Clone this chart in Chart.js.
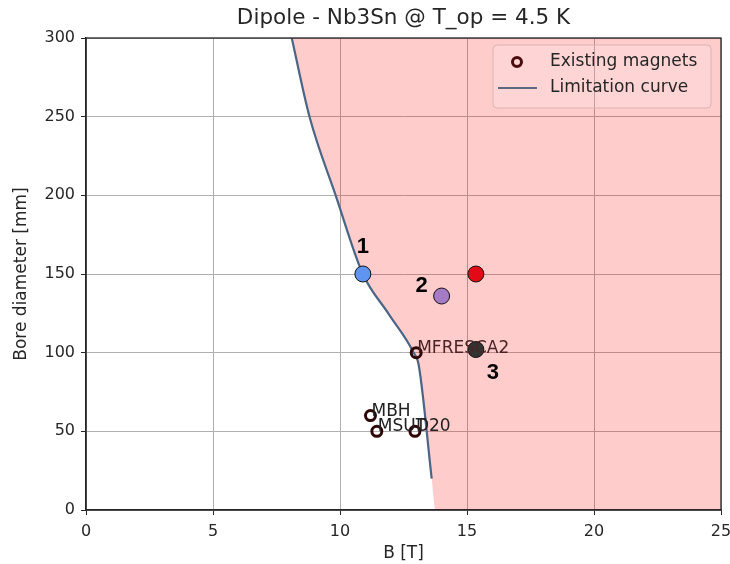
<!DOCTYPE html>
<html><head><meta charset="utf-8">
<script src="https://cdn.jsdelivr.net/npm/chart.js@4/dist/chart.umd.min.js"></script>
<style>html,body{margin:0;padding:0;background:#fff}</style>
</head><body>
<canvas id="c" width="730" height="564"></canvas>
<script>
// ---- data ----
const chartTitle = 'Dipole - Nb3Sn @ T_op = 4.5 K';
const xTicks = [0, 5, 10, 15, 20, 25];
const yTicks = [0, 50, 100, 150, 200, 250, 300];
const curveB = [8.1, 8.8, 9.83, 10.9, 11.9, 12.9, 13.1, 13.61];
const curveD = [300, 250, 200, 150, 125, 100, 92, 20];
const fillTailB = [13.76, 25];
const fillTailD = [0, 0];
const magnetNames = ['MBH', 'MSUT', 'D20', 'MFRESCA2'];
const magnetB = [11.2, 11.45, 12.95, 13.0];
const magnetD = [60, 50, 50, 100];
const designB = [10.9, 14.0, 15.35, 15.35];
const designD = [150, 136, 150, 102];
const designColors = ['#5f95f0', '#a67bc6', '#e20a16', '#333333'];
const designLabels = ['1', '2', '', '3'];
const legendLabels = ['Existing magnets', 'Limitation curve'];

// ---- build datasets ----
const curvePts = curveB.map((b, i) => ({x: b, y: curveD[i]}));
const fillPts = curvePts.concat(fillTailB.map((b, i) => ({x: b, y: fillTailD[i]})));
const magnetPts = magnetB.map((b, i) => ({x: b, y: magnetD[i]}));
const designPts = designB.map((b, i) => ({x: b, y: designD[i]}));

const LINE_COLOR = '#4a6585';
const MARK_COLOR = '#2e0606';
const TXT = '#262626';
const FONT = "'DejaVu Sans', sans-serif";

const decorPlugin = {
  id: 'decor',
  afterDatasetsDraw(chart) {
    const {ctx, chartArea: a, scales: {x, y}} = chart;
    ctx.save();
    // magnet labels
    ctx.font = '17px ' + FONT;
    ctx.textBaseline = 'alphabetic';
    ctx.textAlign = 'left';
    magnetNames.forEach((n, i) => {
      const px = x.getPixelForValue(magnetB[i]);
      const py = y.getPixelForValue(magnetD[i]);
      ctx.fillStyle = magnetD[i] >= 90 ? '#4a2424' : '#222222';
      ctx.fillText(n, px + 1, py);
    });
    // design point numbers
    ctx.font = 'bold 22px "Liberation Sans", Arial, sans-serif';
    ctx.fillStyle = '#000';
    ctx.textAlign = 'center';
    ctx.textBaseline = 'middle';
    const offs = [[0, -27], [-20, -10], [0, 0], [17, 23]];
    designLabels.forEach((t, i) => {
      if (!t) return;
      const px = x.getPixelForValue(designB[i]);
      const py = y.getPixelForValue(designD[i]);
      ctx.fillText(t, px + offs[i][0], py + offs[i][1]);
    });
    // spines
    ctx.strokeStyle = TXT;
    ctx.lineWidth = 1.3;
    ctx.strokeRect(a.left, a.top, a.right - a.left, a.bottom - a.top);
    // legend
    const lx = a.right - 228, ly = a.top + 7, lw = 218, lh = 63;
    ctx.beginPath();
    ctx.roundRect(lx, ly, lw, lh, 4);
    ctx.fillStyle = 'rgba(255,255,255,0.15)';
    ctx.fill();
    ctx.strokeStyle = 'rgba(215,175,175,0.9)';
    ctx.lineWidth = 1;
    ctx.stroke();
    ctx.beginPath();
    ctx.arc(lx + 24, ly + 17, 4.5, 0, Math.PI * 2);
    ctx.strokeStyle = '#4a0c0c';
    ctx.lineWidth = 3;
    ctx.stroke();
    ctx.beginPath();
    ctx.moveTo(lx + 5, ly + 43);
    ctx.lineTo(lx + 44, ly + 43);
    ctx.strokeStyle = '#5a6a85';
    ctx.lineWidth = 2;
    ctx.stroke();
    ctx.font = '17px ' + FONT;
    ctx.fillStyle = TXT;
    ctx.textAlign = 'left';
    ctx.textBaseline = 'middle';
    ctx.fillText(legendLabels[0], lx + 57, ly + 17);
    ctx.fillText(legendLabels[1], lx + 57, ly + 43);
    // title
    ctx.font = '21.5px ' + FONT;
    ctx.textAlign = 'center';
    ctx.textBaseline = 'middle';
    ctx.fillText(chartTitle, (a.left + a.right) / 2, 18);
    ctx.restore();
  }
};

new Chart(document.getElementById('c'), {
  type: 'scatter',
  data: {
    datasets: [
      { data: fillPts, showLine: true, fill: 'end', backgroundColor: 'rgba(255,0,0,0.2)', borderWidth: 0, pointRadius: 0, cubicInterpolationMode: 'monotone', order: 4 },
      { data: curvePts, showLine: true, fill: false, borderColor: LINE_COLOR, borderWidth: 2.2, pointRadius: 0, cubicInterpolationMode: 'monotone', order: 3 },
      { data: magnetPts, pointRadius: 5, pointBorderWidth: 3, pointBorderColor: MARK_COLOR, pointBackgroundColor: 'rgba(0,0,0,0)', order: 2 },
      { data: designPts, pointRadius: 8, pointBorderWidth: 1, pointBorderColor: '#111', pointBackgroundColor: designColors, order: 1 }
    ]
  },
  options: {
    responsive: false,
    animation: false,
    devicePixelRatio: 1,
    layout: { padding: { top: 38, right: 8, left: 0, bottom: 0 } },
    plugins: { legend: { display: false }, tooltip: { enabled: false }, title: { display: false } },
    scales: {
      x: {
        type: 'linear', min: 0, max: 25,
        afterBuildTicks: s => { s.ticks = xTicks.map(v => ({value: v})); },
        afterFit: s => { s.height = 54; s.paddingLeft = 0; s.paddingRight = 0; },
        ticks: { color: TXT, font: { size: 16, family: FONT }, padding: 7 },
        grid: { color: '#b0b0b0', lineWidth: 1, tickColor: TXT, tickLength: 5 },
        border: { color: TXT, width: 1.3 },
        title: { display: true, text: 'B [T]', color: TXT, font: { size: 17, family: FONT }, padding: { top: 0, bottom: 0 } }
      },
      y: {
        type: 'linear', min: 0, max: 300,
        afterBuildTicks: s => { s.ticks = yTicks.map(v => ({value: v})); },
        afterFit: s => { s.width = 86; s.paddingTop = 0; s.paddingBottom = 0; },
        ticks: { color: TXT, font: { size: 16, family: FONT }, padding: 6 },
        grid: { color: '#b0b0b0', lineWidth: 1, tickColor: TXT, tickLength: 5 },
        border: { color: TXT, width: 1.3 },
        title: { display: true, text: 'Bore diameter [mm]', color: TXT, font: { size: 17, family: FONT }, padding: { top: 11, bottom: 0 } }
      }
    }
  },
  plugins: [decorPlugin]
});
</script>
</body></html>
